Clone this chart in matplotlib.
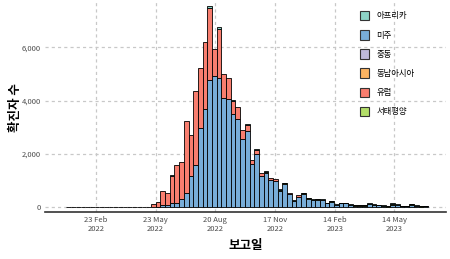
import numpy as np
import pandas as pd
import matplotlib
matplotlib.use("Agg")
import matplotlib.pyplot as plt
import matplotlib.dates as mdates
from matplotlib.patches import Patch

plt.rcParams['font.family'] = ['Noto Sans CJK KR', 'DejaVu Sans']

# weekly counts, weeks start on Monday; 18 empty weeks from 10 Jan 2022
n_empty = 18
americas = [0, 20, 100, 75, 150, 175, 300, 550, 1175, 1600, 2990, 3700, 4760, 4910,
            4830, 4100, 4075, 3510, 3320, 2550, 2860, 1610, 2010, 1160, 1290, 1010,
            1000, 620, 880, 500, 230, 400, 500, 320, 270, 280, 270, 140, 210, 90,
            140, 140, 90, 60, 60, 60, 110, 80, 70, 50, 25, 100, 80, 40, 40, 90,
            50, 25, 40]
europe = [110, 170, 500, 465, 1010, 1415, 1400, 2690, 1550, 2760, 2250, 2500, 2725, 1030,
          1870, 890, 785, 480, 440, 360, 220, 150, 150, 140, 0, 90,
          75, 0, 0, 40, 0, 40, 0, 0, 0, 0, 0, 0, 0, 0,
          0, 0, 0, 0, 0, 0, 0, 0, 0, 0, 0, 0, 0, 0, 0, 0,
          0, 0, 0]
africa = [0, 0, 0, 0, 40, 0, 0, 0, 0, 0, 0, 0, 75, 0,
          60, 0, 0, 20, 0, 0, 60, 0, 40, 0, 30, 0,
          0, 30, 20, 0, 15, 0, 20, 15, 15, 15, 15, 10, 15, 10,
          10, 10, 10, 8, 8, 8, 15, 15, 15, 12, 8, 20, 15, 10, 10, 15,
          12, 8, 10]
west_pacific = [0, 0, 0, 0, 0, 0, 0, 0, 0, 0, 0, 0, 0, 0,
                0, 0, 0, 0, 0, 0, 0, 0, 0, 0, 30, 0,
                0, 30, 25, 0, 15, 0, 20, 15, 15, 15, 15, 10, 15, 10,
                10, 10, 10, 7, 7, 7, 15, 15, 15, 13, 7, 20, 15, 10, 10, 20,
                13, 7, 10]
middle_east = [0] * 59
se_asia = [0] * 59

regions = ['아프리카', '미주', '중동', '동남아시아', '유럽', '서태평양']
colors = {'아프리카': '#8DD3C7', '미주': '#78ADD8', '중동': '#BEBADA',
          '동남아시아': '#FDB462', '유럽': '#F87E6F', '서태평양': '#B3DE69'}

tick_dates = ['2022-02-23', '2022-05-23', '2022-08-20', '2022-11-17', '2023-02-14', '2023-05-14']
tick_labels = ['23 Feb\n2022', '23 May\n2022', '20 Aug\n2022', '17 Nov\n2022', '14 Feb\n2023', '14 May\n2023']

weeks = pd.date_range('2022-01-10', periods=n_empty + len(americas), freq='W-MON')
x = mdates.date2num(weeks)

def pad(v):
    return np.array([0] * n_empty + list(v), dtype=float)

# stacking order bottom -> top
stack = [('미주', pad(americas)), ('서태평양', pad(west_pacific)), ('중동', pad(middle_east)),
         ('동남아시아', pad(se_asia)), ('유럽', pad(europe)), ('아프리카', pad(africa))]

fig = plt.figure(figsize=(4.5, 2.59), dpi=100)
ax = fig.add_axes([45 / 450, 1 - 212 / 259, 401 / 450, 210 / 259])

total = sum(v for _, v in stack)
bottom = np.zeros(len(x))
for name, vals in stack:
    mask = vals > 0
    if name == '미주':
        mask = mask | (total == 0)
    ax.bar(x[mask], vals[mask], width=7, align='edge', bottom=bottom[mask],
           color=colors[name], edgecolor='black', linewidth=0.6, zorder=3)
    bottom += vals

ax.set_xlim(mdates.date2num(pd.Timestamp('2021-12-09')), mdates.date2num(pd.Timestamp('2023-07-30')))
ax.set_ylim(-180, 7700)
ax.set_xticks(mdates.date2num(pd.to_datetime(tick_dates)))
ax.set_xticklabels(tick_labels)
ax.set_yticks([0, 2000, 4000, 6000])
ax.set_yticklabels(['0', '2,000', '4,000', '6,000'])
ax.tick_params(length=0, labelsize=5.5, colors='#4D4D4D', pad=3)
ax.grid(True, color='#C8C8C8', linestyle=(0, (2.5, 2.5)), linewidth=0.9, zorder=0)

for s in ['top', 'right', 'left']:
    ax.spines[s].set_visible(False)
ax.spines['bottom'].set_color('#333333')
ax.spines['bottom'].set_linewidth(1.2)

ax.set_xlabel('보고일', fontsize=9, fontweight='bold', labelpad=4)
fig.text(15 / 450, 1 - 108 / 259, '확진자 수', rotation=90, fontsize=9, fontweight='bold',
         ha='center', va='center')

handles = [Patch(facecolor=colors[r], edgecolor='#333333', linewidth=0.8, label=r) for r in regions]
fig.legend(handles=handles, loc='upper left', bbox_to_anchor=(354 / 450, 1 - 5 / 259),
           frameon=False, fontsize=6, handlelength=1.1, handleheight=1.4,
           labelspacing=1.15, handletextpad=0.9, borderpad=0.2)

fig.savefig('out.png', dpi=100)
